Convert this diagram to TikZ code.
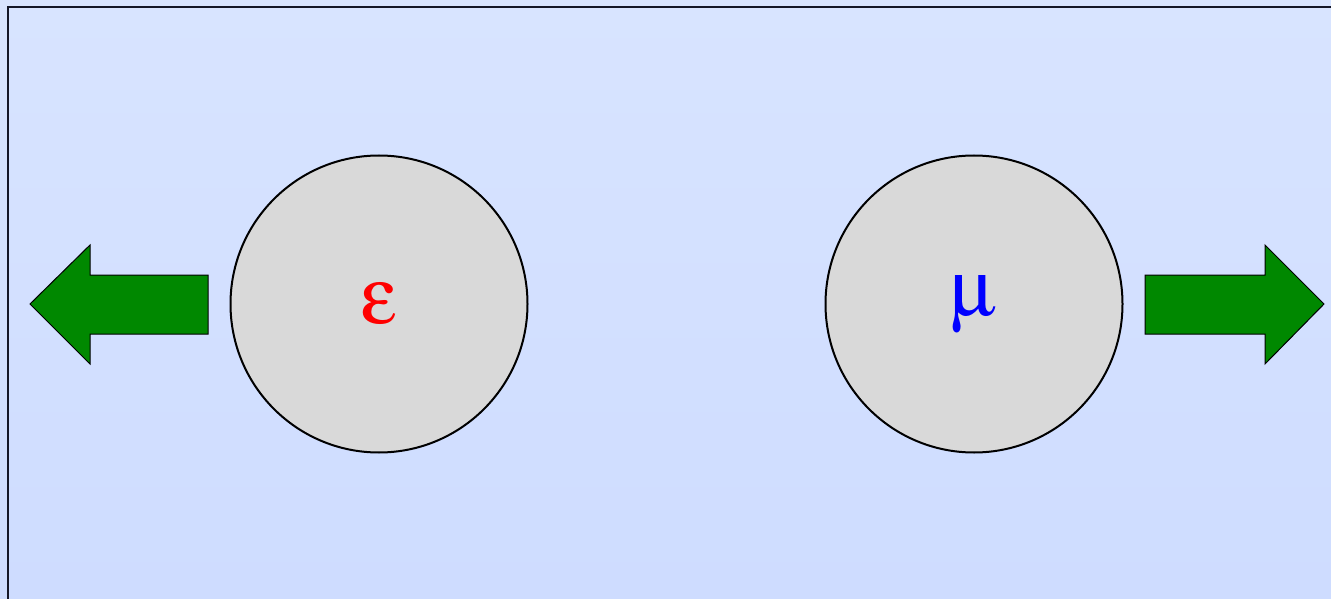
\documentclass[tikz,border=0pt]{standalone}
\usepackage[Symbol]{upgreek}
\definecolor{bgtop}{RGB}{216,228,255}
\definecolor{bgbot}{RGB}{206,220,255}
\definecolor{ballfill}{RGB}{217,217,217}
\definecolor{arrowgreen}{RGB}{0,136,0}
\begin{document}
\begin{tikzpicture}[x=1pt,y=-1pt,
  ball/.style={circle,draw=black,line width=2pt,fill=ballfill,minimum size=297pt,inner sep=0pt},
  glyph/.style={font=\fontsize{80}{80}\selectfont},
  bigarrow/.style={draw=black,line width=1pt,fill=arrowgreen}]
  \useasboundingbox (0,0) rectangle (1331,599);
  % backdrop with a soft vertical gradient
  \shade[top color=bgtop,bottom color=bgbot] (0,0) rectangle (1331,599);
  \draw[line width=2pt,draw={rgb,255:red,20;green,22;blue,40}] (7.5,620) -- (7.5,7.5) -- (1350,7.5);
  % the two balls
  \node[ball,glyph,text=red] (eps) at (379,304) {$\upepsilon$};
  \node[ball,glyph,text=blue] (mu) at (974,304) {$\upmu$};
  % block arrows pushing the balls apart
  \draw[bigarrow] (208,275) -- (90,275) -- (90,245) -- (30,304) -- (90,364) -- (90,334) -- (208,334) -- cycle;
  \draw[bigarrow] (1145,275) -- (1265,275) -- (1265,245) -- (1324,304) -- (1265,364) -- (1265,334) -- (1145,334) -- cycle;
\end{tikzpicture}
\end{document}
